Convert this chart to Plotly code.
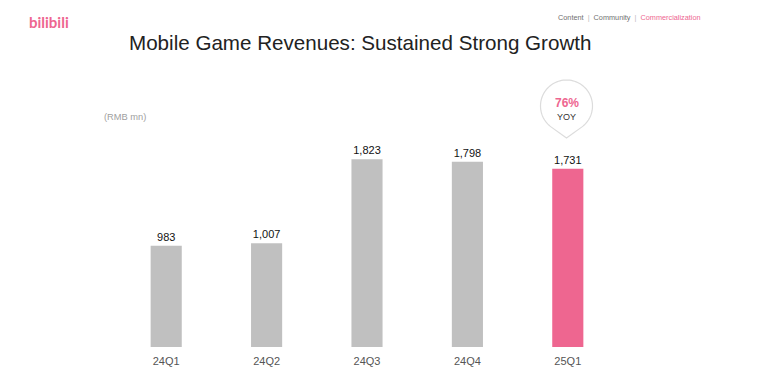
import math
import plotly.graph_objects as go

categories = ["24Q1", "24Q2", "24Q3", "24Q4", "25Q1"]
revenues = [983, 1007, 1823, 1798, 1731]
value_labels = ["983", "1,007", "1,823", "1,798", "1,731"]
bar_colors = ["#c0c0c0", "#c0c0c0", "#c0c0c0", "#c0c0c0", "#ee6690"]
yoy_text = "76%"

OFF = 8  # page body margin
W, H = 768 - OFF, 379 - OFF
L, R, T, B = 116 - OFF, 150, 141 - OFF, 32
PW, PH = W - L - R, H - T - B


def px(x):
    return (x - OFF - L) / PW


def py(y):
    return (H - B - (y - OFF)) / PH


fig = go.Figure()
fig.add_trace(go.Bar(
    x=categories, y=revenues, marker=dict(color=bar_colors, line=dict(width=0)),
    text=value_labels, textposition="outside", cliponaxis=False,
    textfont=dict(family="Liberation Sans, Arial, sans-serif", size=11, color="#111111"),
    hoverinfo="skip",
))

# teardrop bubble above the last bar
cx, cy, r, tipy = 566.5, 106, 26, 138
d = tipy - cy
th = math.acos(r / d)
pts = []
n = 80
start = math.pi / 2 + th
end = math.pi / 2 - th + 2 * math.pi
for i in range(n + 1):
    a = start + (end - start) * i / n
    pts.append((cx + r * math.cos(a), cy + r * math.sin(a)))
path = "M {:.5f},{:.5f} ".format(px(cx), py(tipy))
for (xx, yy) in pts:
    path += "L {:.5f},{:.5f} ".format(px(xx), py(yy))
path += "Z"
fig.add_shape(type="path", xref="paper", yref="paper", path=path,
              line=dict(color="#dcdcdc", width=1.2), fillcolor="white", layer="above")

anns = [
    dict(x=px(566.5), y=py(103), text="<b>" + yoy_text + "</b>", size=12, color="#ee6690"),
    dict(x=px(566.5), y=py(117), text="YOY", size=9, color="#333333"),
]
for a in anns:
    fig.add_annotation(x=a["x"], y=a["y"], xref="paper", yref="paper", text=a["text"],
                       showarrow=False, xanchor="center", yanchor="middle",
                       font=dict(family="Liberation Sans, Arial, sans-serif", size=a["size"], color=a["color"]))

# title
fig.add_annotation(x=px(127), y=py(42), xref="paper", yref="paper",
                   text="Mobile Game Revenues: Sustained Strong Growth", showarrow=False,
                   xanchor="left", yanchor="middle",
                   font=dict(family="Liberation Sans, Arial, sans-serif", size=20.6, color="#222222"))
# unit
fig.add_annotation(x=px(102), y=py(117), xref="paper", yref="paper", text="(RMB mn)",
                   showarrow=False, xanchor="left", yanchor="middle",
                   font=dict(family="Liberation Sans, Arial, sans-serif", size=9.3, color="#a0a0a0"))
# logo
fig.add_annotation(x=px(27), y=py(22), xref="paper", yref="paper", text="<b>bilibili</b>",
                   showarrow=False, xanchor="left", yanchor="middle",
                   font=dict(family="Lato, Arial, sans-serif", size=15, color="#ee6690"))
# nav
fig.add_annotation(x=px(556), y=py(17), xref="paper", yref="paper",
                   text="Content  <span style='color:#bbbbbb'>|</span>  Community  <span style='color:#bbbbbb'>|</span>  <span style='color:#ee6690'>Commercialization</span>",
                   showarrow=False, xanchor="left", yanchor="middle",
                   font=dict(family="Liberation Sans, Arial, sans-serif", size=7.3, color="#707070"))

fig.update_layout(
    width=W, height=H, margin=dict(l=L, r=R, t=T, b=B),
    paper_bgcolor="white", plot_bgcolor="white", showlegend=False, bargap=0.69,
    xaxis=dict(showgrid=False, zeroline=False, showline=False, ticks="", ticklabelstandoff=6,
               tickfont=dict(family="Liberation Sans, Arial, sans-serif", size=11, color="#555555")),
    yaxis=dict(range=[0, 2000], visible=False),
)

fig.write_html("out.html")
